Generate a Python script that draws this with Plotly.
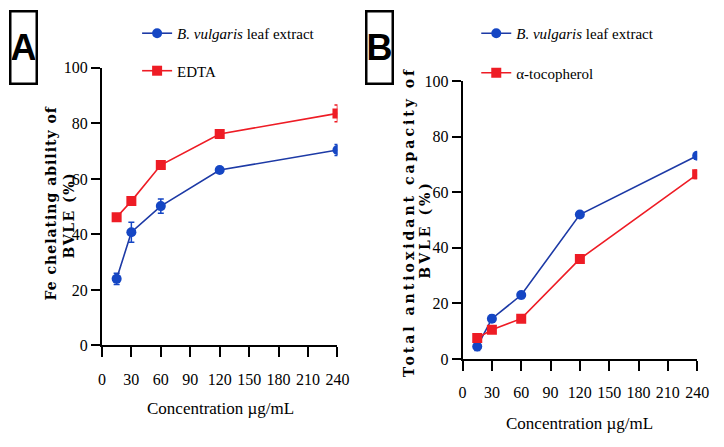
import plotly.graph_objects as go

conc = [15, 30, 60, 120, 240]

# Panel A: Fe chelating ability (%)
a_bv = [24, 40.8, 50.2, 63.2, 70.4]
a_bv_err = [2.0, 3.6, 2.6, 1.0, 2.0]
a_edta = [46.2, 52, 65, 76.2, 83.6]
a_edta_err = [1.2, 1.2, 1.2, 1.2, 3.0]

# Panel B: Total antioxidant capacity (%)
b_bv = [4.5, 14.5, 23, 52, 73.2]
b_bv_err = [1.5, 1.2, 1.2, 1.0, 1.2]
b_toc = [7.5, 10.5, 14.5, 36, 66.5]
b_toc_err = [1.0, 1.0, 1.2, 1.2, 1.5]

x_ticks = [0, 30, 60, 90, 120, 150, 180, 210, 240]
y_ticks = [0, 20, 40, 60, 80, 100]

BLUE = "#1546c4"
BLUE_LINE = "#1d3aa6"
RED = "#ee1c25"
SERIF = "Liberation Serif, Times New Roman, serif"
BSERIF = "DejaVu Serif, serif"

# page body has an 8px margin; size the figure so the page fits the 724x447 window
OFF = 8
W, H = 724 - 2 * OFF, 447 - 2 * OFF

def px(v):
    return (v - OFF) / W

def py(v):
    return 1 - (v - OFF) / H

fig = go.Figure()

def add(x, y, err, name, color, lcolor, symbol, xa, ya, legend, group):
    fig.add_trace(go.Scatter(
        x=x, y=y, name=name, mode="lines+markers",
        xaxis=xa, yaxis=ya, legend=legend, legendgroup=group,
        line=dict(color=lcolor, width=1.6),
        marker=dict(color=color, size=10, symbol=symbol),
        error_y=dict(type="data", array=err, visible=True, color=color,
                     thickness=1.5, width=3),
    ))

add(conc, a_bv, a_bv_err, "<i>B. vulgaris</i> leaf extract", BLUE, BLUE_LINE, "circle", "x", "y", "legend", "a1")
add(conc, a_edta, a_edta_err, "EDTA", RED, RED, "square", "x", "y", "legend", "a2")
add(conc, b_bv, b_bv_err, "<i>B. vulgaris</i> leaf extract", BLUE, BLUE_LINE, "circle", "x2", "y2", "legend2", "b1")
add(conc, b_toc, b_toc_err, "α-tocopherol", RED, RED, "square", "x2", "y2", "legend2", "b2")

axis_common = dict(
    showgrid=False, zeroline=False, showline=True, linecolor="black", linewidth=2,
    ticks="outside", tickcolor="black", tickwidth=2,
    tickfont=dict(family=SERIF, size=16, color="black"),
)

fig.update_layout(
    width=W, height=H,
    margin=dict(l=0, r=0, t=0, b=0),
    paper_bgcolor="white", plot_bgcolor="white",
    xaxis=dict(domain=[px(100), px(341)], range=[0, 240], tickvals=x_ticks,
               ticklen=10, ticklabelstandoff=8, anchor="y", **axis_common),
    yaxis=dict(domain=[py(351), py(62)], range=[0, 100], tickvals=y_ticks,
               ticklen=9, anchor="x", **axis_common),
    xaxis2=dict(domain=[px(469), px(709)], range=[0, 240], tickvals=x_ticks,
                ticklen=10, ticklabelstandoff=8, anchor="y2", **axis_common),
    yaxis2=dict(domain=[py(365), py(76)], range=[0, 100], tickvals=y_ticks,
                ticklen=9, anchor="x2", **axis_common),
    legend=dict(x=px(136), y=py(9), xanchor="left", yanchor="top",
                font=dict(family=SERIF, size=15, color="black"),
                tracegroupgap=15, bgcolor="rgba(0,0,0,0)", itemwidth=30),
    legend2=dict(x=px(483), y=py(9), xanchor="left", yanchor="top",
                 font=dict(family=SERIF, size=15, color="black"),
                 tracegroupgap=17, bgcolor="rgba(0,0,0,0)", itemwidth=30),
    showlegend=True,
)

ann = []
# panel letters
for letter, cx in (("A", 20), ("B", 384)):
    ann.append(dict(text=f"<b>{letter}</b>", x=px(cx), y=py(41), xref="paper", yref="paper",
                    showarrow=False, font=dict(family="Liberation Sans, Arial, sans-serif", size=36, color="black"),
                    bordercolor="black", borderwidth=2.5, borderpad=0, width=24, height=70,
                    xanchor="center", yanchor="middle"))

def rot(text, cx, cy, spacing):
    ann.append(dict(text=f"<span style='letter-spacing:{spacing}px'><b>{text}</b></span>",
                    x=px(cx), y=py(cy), xref="paper", yref="paper",
                    showarrow=False, textangle=-90, xanchor="center", yanchor="middle",
                    font=dict(family=BSERIF, size=14, color="black")))

rot("Fe chelating ability of", 48, 203, 1)
rot("BVLE (%)", 66, 215, 1.5)
rot("Total antioxidant capacity of", 414, 223, 3)
rot("BVLE (%)", 431, 230, 3)

# x titles
for cx, cy in ((221, 417), (589, 432)):
    ann.append(dict(text="Concentration µg/mL", x=px(cx), y=py(cy), xref="paper", yref="paper",
                    showarrow=False, xanchor="center", yanchor="middle",
                    font=dict(family=SERIF, size=17, color="black")))
fig.update_layout(annotations=ann)

fig.write_html("out.html")
